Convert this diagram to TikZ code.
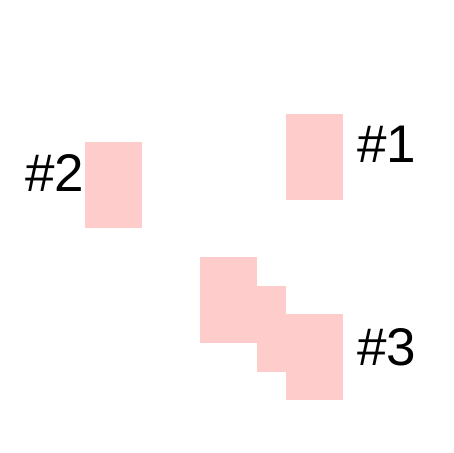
\documentclass[tikz,border=0pt]{standalone}
\usepackage{fontspec}
\setmainfont{Liberation Sans}
\usetikzlibrary{positioning}
\definecolor{tilepink}{HTML}{FFCCCC}

\begin{document}
\begin{tikzpicture}[
x=1pt, y=-1pt,
tile/.style={fill=tilepink, draw=none, inner sep=0pt, minimum width=57pt, minimum height=86pt},
tag/.style={anchor=base west, inner sep=0pt, font=\fontsize{53}{58}\selectfont}
]
\useasboundingbox (0,0) rectangle (453,453);
\node[tile] (one) at (314.5,157) {};
\node[tile] (two) at (113.5,185) {};
\node[tile] (threea) at (228.5,300) {};
\node[tile, minimum width=29pt] (threeb) at (271.5,329) {};
\node[tile] (threec) at (314.5,357) {};

\node[tag] (tagone) at (357,162) {\#1};
\node[tag] (tagtwo) at (25,191) {\#2};
\node[tag] (tagthree) at (357,365) {\#3};
\end{tikzpicture}
\end{document}
